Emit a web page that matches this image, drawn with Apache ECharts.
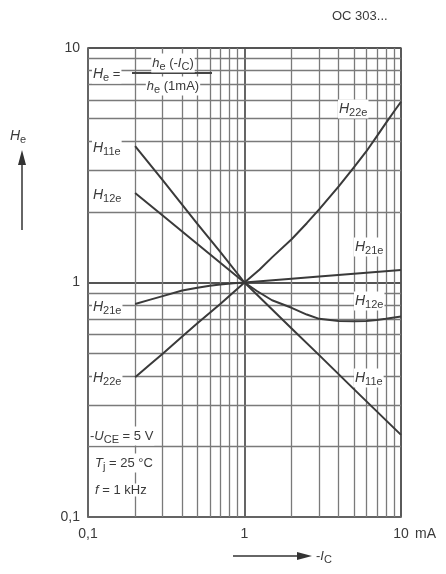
<!DOCTYPE html>
<html>
<head>
<meta charset="utf-8">
<script src="https://cdn.jsdelivr.net/npm/echarts@6/dist/echarts.min.js"></script>
<style>
html,body{margin:0;padding:0;background:#fff;}
#c{width:446px;height:574px;}
</style>
</head>
<body>
<div id="c"></div>
<script>
// ---- data (normalised to 1 at 1 mA) ----
const h11eI = [0.2, 0.3, 0.5, 0.7, 1, 2, 3, 5, 10];
const h11eV = [3.82, 2.73, 1.78, 1.35, 1, 0.637, 0.49, 0.351, 0.224];
const h12eI = [0.2, 0.3, 0.5, 0.7, 1, 1.2, 1.5, 2, 2.5, 3, 4, 5, 6, 7, 8, 10];
const h12eV = [2.41, 1.93, 1.46, 1.215, 1, 0.92, 0.84, 0.78, 0.73, 0.70, 0.685, 0.683, 0.686, 0.692, 0.70, 0.716];
const h21eI = [0.2, 0.25, 0.3, 0.4, 0.5, 0.6, 0.7, 0.85, 1, 2, 3, 5, 10];
const h21eV = [0.81, 0.845, 0.875, 0.925, 0.95, 0.968, 0.98, 0.992, 1, 1.038, 1.061, 1.09, 1.13];
const h22eI = [0.2, 0.25, 0.3, 0.4, 0.5, 0.7, 1, 1.25, 1.5, 2, 2.5, 3, 4, 5, 6, 7, 8, 9, 10];
const h22eV = [0.394, 0.448, 0.497, 0.588, 0.67, 0.81, 1, 1.136, 1.28, 1.53, 1.79, 2.05, 2.57, 3.1, 3.62, 4.2, 4.78, 5.35, 5.9];
const gridX = [0.2, 0.3, 0.4, 0.5, 0.6, 0.7, 0.8, 0.9, 2, 3, 4, 5, 6, 7, 8, 9];
const gridY = [0.2, 0.3, 0.4, 0.5, 0.6, 0.7, 0.8, 0.9, 2, 3, 4, 5, 6, 7, 8, 9];
const xTickLabels = {0.1: '0,1', 1: '1', 10: '10'};
const yTickLabels = {0.1: '0,1', 1: '1', 10: '10'};

const FONT = 'Liberation Sans';
const TXT = '#3a3a3a';
const GRID = '#7a7a7a';
const CURVE = '#3a3a3a';

function zip(a, b) { return a.map((v, i) => [v, b[i]]); }

const rich = {
  h: {fontFamily: FONT, fontStyle: 'italic', fontSize: 14, fill: TXT},
  s: {fontFamily: FONT, fontSize: 11, fill: TXT, padding: [8, 0, 0, 0]},
  n: {fontFamily: FONT, fontSize: 13, fill: TXT},
  i: {fontFamily: FONT, fontStyle: 'italic', fontSize: 13, fill: TXT}
};

function hLabel(x, y, sub) {
  return {
    type: 'text', x: x, y: y, z: 50,
    style: {
      text: '{h|H}{s|' + sub + '}', rich: rich,
      align: 'left', verticalAlign: 'middle',
      backgroundColor: '#fff', padding: [0, 1, 0, 1]
    }
  };
}
function txt(x, y, text, align) {
  return {
    type: 'text', x: x, y: y, z: 50,
    style: {
      text: text, rich: rich, align: align || 'left', verticalAlign: 'middle',
      backgroundColor: '#fff', padding: [0, 1, 0, 1]
    }
  };
}

function curve(name, I, V) {
  return {
    name: name, type: 'line', data: zip(I, V), showSymbol: false,
    smooth: false,
    lineStyle: {color: CURVE, width: 2, join: 'round'}, z: 10, silent: true, animation: false
  };
}

const chart = echarts.init(document.getElementById('c'), null, {renderer: 'canvas'});
chart.setOption({
  animation: false,
  backgroundColor: '#fff',
  grid: {left: 88, right: 45, top: 48, bottom: 57, show: true, borderColor: '#6a6a6a', borderWidth: 1.5, backgroundColor: 'transparent'},
  xAxis: {
    type: 'log', logBase: 10, min: 0.1, max: 10,
    axisLine: {show: true, lineStyle: {color: '#6a6a6a', width: 1.5}},
    axisTick: {show: false},
    splitLine: {show: true, lineStyle: {color: '#555', width: 1.8}},
    axisLabel: {
      show: true, margin: 10, color: TXT, fontFamily: FONT, fontSize: 14,
      showMinLabel: true, showMaxLabel: true,
      formatter: v => xTickLabels[v] !== undefined ? xTickLabels[v] : ''
    }
  },
  yAxis: {
    type: 'log', logBase: 10, min: 0.1, max: 10,
    axisLine: {show: true, lineStyle: {color: '#6a6a6a', width: 1.5}},
    axisTick: {show: false},
    splitLine: {show: true, lineStyle: {color: '#555', width: 1.8}},
    axisLabel: {
      show: true, margin: 8, color: TXT, fontFamily: FONT, fontSize: 14,
      showMinLabel: true, showMaxLabel: true,
      formatter: v => yTickLabels[v] !== undefined ? yTickLabels[v] : ''
    }
  },
  series: [
    {
      name: 'grid', type: 'line', data: [], silent: true, z: 1,
      markLine: {
        silent: true, symbol: ['none', 'none'], animation: false,
        label: {show: false},
        lineStyle: {color: GRID, width: 1.3, type: 'solid'},
        emphasis: {disabled: true},
        data: gridX.map(v => ({xAxis: v})).concat(gridY.map(v => ({yAxis: v})))
      }
    },
    curve('H11e', h11eI, h11eV),
    curve('H12e', h12eI, h12eV),
    curve('H21e', h21eI, h21eV),
    curve('H22e', h22eI, h22eV)
  ],
  graphic: [
    // title
    {type: 'text', x: 332, y: 16, style: {text: 'OC 303...', font: '13px ' + FONT, fill: TXT, align: 'left', verticalAlign: 'middle'}},
    // y axis title + arrow
    txt(9, 136, '{h|H}{s|e}'),
    {type: 'line', shape: {x1: 22, y1: 230, x2: 22, y2: 162}, style: {stroke: '#333', lineWidth: 1.5}},
    {type: 'polygon', shape: {points: [[22, 150], [18, 165], [26, 165]]}, style: {fill: '#333'}},
    // x axis title + arrow
    {type: 'line', shape: {x1: 233, y1: 556, x2: 300, y2: 556}, style: {stroke: '#333', lineWidth: 1.5}},
    {type: 'polygon', shape: {points: [[312, 556], [297, 552], [297, 560]]}, style: {fill: '#333'}},
    txt(315, 556, '{n|-}{i|I}{s|C}'),
    // unit
    {type: 'text', x: 415, y: 534, style: {text: 'mA', font: '14px ' + FONT, fill: TXT, align: 'left', verticalAlign: 'middle'}},
    // formula
    txt(92, 74, '{h|H}{s|e}{n| =}'),
    txt(173, 63, '{i|h}{s|e}{n| (-}{i|I}{s|C}{n|)}', 'center'),
    {type: 'rect', z: 49, shape: {x: 132, y: 72, width: 80, height: 2}, style: {fill: '#444'}},
    txt(173, 86, '{i|h}{s|e}{n| (1mA)}', 'center'),
    // conditions
    txt(89, 436, '{n|-}{i|U}{s|CE}{n| = 5 V}'),
    txt(94, 463, '{i|T}{s|j}{n| = 25 °C}'),
    txt(94, 490, '{i|f}{n| = 1 kHz}'),
    // curve labels left
    hLabel(92, 148, '11e'),
    hLabel(92, 195, '12e'),
    hLabel(92, 307, '21e'),
    hLabel(92, 378, '22e'),
    // curve labels right
    hLabel(338, 109, '22e'),
    hLabel(354, 247, '21e'),
    hLabel(354, 301, '12e'),
    hLabel(354, 378, '11e')
  ]
});
</script>
</body>
</html>
